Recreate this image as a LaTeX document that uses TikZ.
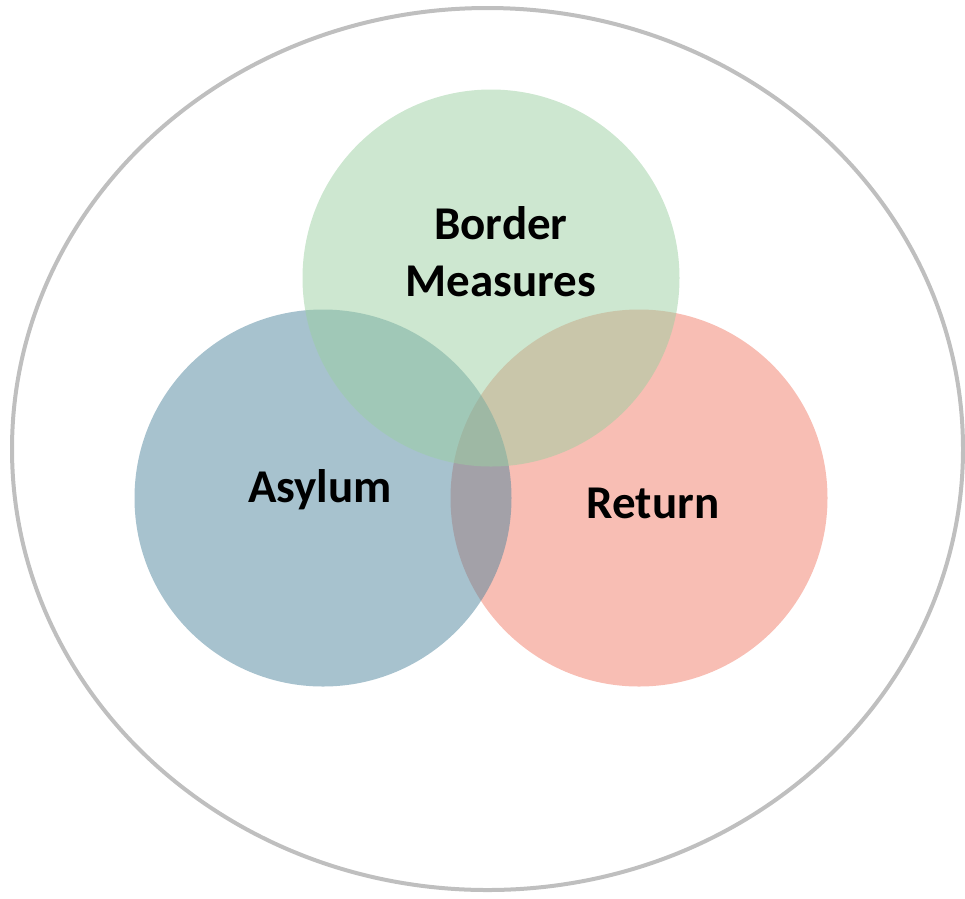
\documentclass[tikz,border=0pt]{standalone}
\usepackage{fontspec}
\setmainfont{Carlito}
\begin{document}
\begin{tikzpicture}[x=1pt,y=-1pt,
  lbl/.style={font=\fontsize{47}{57}\selectfont\bfseries, align=center, text=black},
  venn/.style={fill opacity=0.5, draw=none}]
\useasboundingbox (0,0) rectangle (965,898);
\definecolor{bluebase}{HTML}{4F859D}
\definecolor{redbase}{HTML}{F17D69}
\definecolor{greenbase}{HTML}{9BCFA1}
\definecolor{outline}{HTML}{BFBFBF}
\draw[outline, line width=4pt] (487.5,449) ellipse [x radius=475.5, y radius=441];
\fill[venn, redbase] (639,498) circle [radius=188.5];
\fill[venn, bluebase] (323,498) circle [radius=188.5];
\fill[venn, greenbase] (491,278) circle [radius=188.5];
\node[lbl] (border) at (501,252) {Border\\Measures};
\node[lbl] (asylum) at (320,490) {Asylum};
\node[lbl] (return) at (653,503) {Return};
\end{tikzpicture}
\end{document}
